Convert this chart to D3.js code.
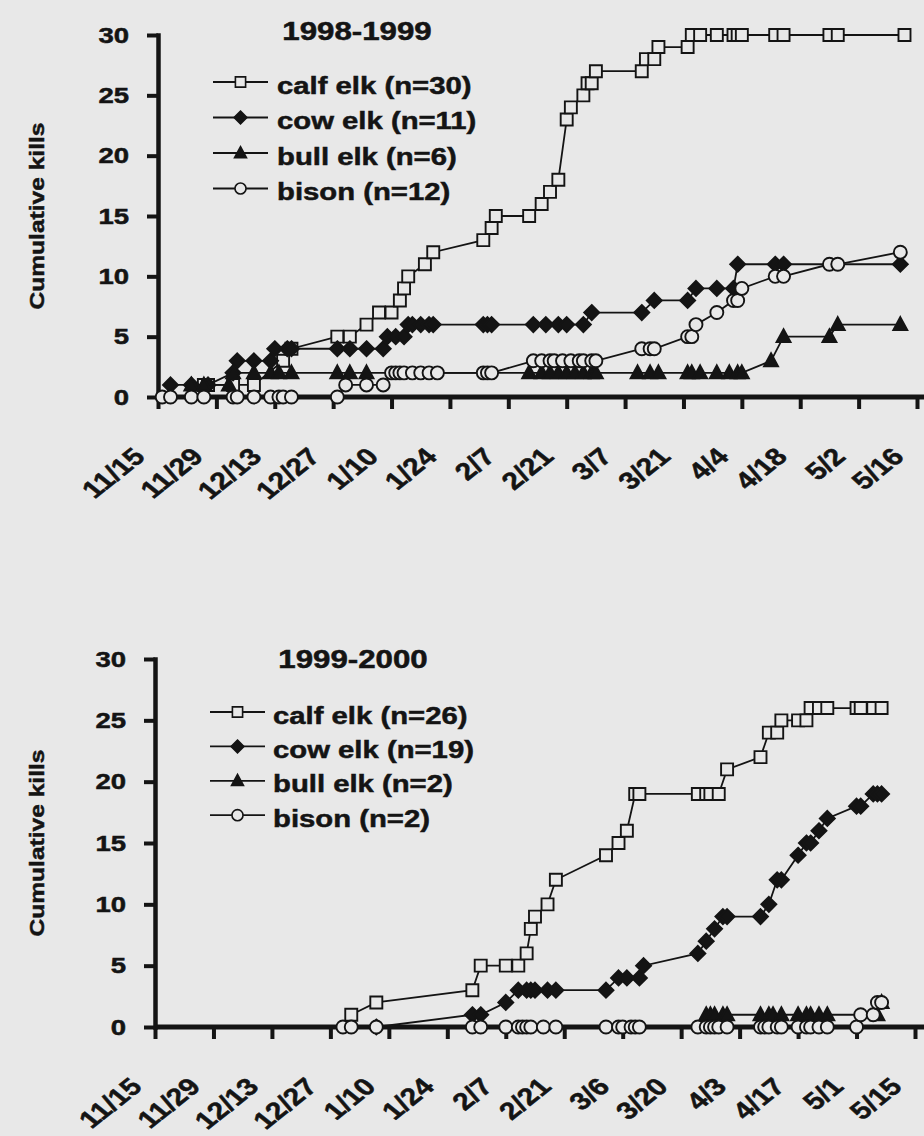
<!DOCTYPE html>
<html>
<head>
<meta charset="utf-8">
<script src="https://cdn.jsdelivr.net/npm/d3@7/dist/d3.min.js"></script>
<style>
  html, body { margin: 0; padding: 0; background: #e8e8e8; }
  svg { display: block; }
  text { font-family: "Liberation Sans", Arial, Helvetica, sans-serif; font-weight: bold; fill: #141414; stroke: #141414; stroke-width: 0.5px; }
</style>
</head>
<body>
<svg id="chart" width="924" height="1136"></svg>
<script>
// Days are counted from 15 November; values are cumulative kills.
const yTicks = [0, 5, 10, 15, 20, 25, 30];
const tickDays = [0, 14, 28, 42, 56, 70, 84, 98, 112, 126, 140, 154, 168, 182];
const tickLabels1998 = ["11/15", "11/29", "12/13", "12/27", "1/10", "1/24", "2/7", "2/21", "3/7", "3/21", "4/4", "4/18", "5/2", "5/16"];
const tickLabels1999 = ["11/15", "11/29", "12/13", "12/27", "1/10", "1/24", "2/7", "2/21", "3/6", "3/20", "4/3", "4/17", "5/1", "5/15"];

// 1998-1999
const calf1998Days  = [11, 12, 18, 23, 30, 32, 43, 46, 50, 53, 56, 58, 59, 60, 64, 66, 78, 80, 81, 89, 92, 94, 96, 98, 99, 102, 103, 104, 105, 116, 117, 119, 120, 127, 128, 130, 134, 138, 139, 140, 148, 150, 161, 163, 179];
const calf1998Kills = [1, 1, 1, 1, 3, 4, 5, 5, 6, 7, 7, 8, 9, 10, 11, 12, 13, 14, 15, 15, 16, 17, 18, 23, 24, 25, 26, 26, 27, 27, 28, 28, 29, 29, 30, 30, 30, 30, 30, 30, 30, 30, 30, 30, 30];
const cow1998Days   = [3, 8, 12, 18, 19, 23, 27, 28, 31, 32, 43, 46, 50, 54, 55, 57, 59, 60, 61, 63, 65, 66, 78, 79, 80, 90, 93, 96, 98, 102, 104, 116, 119, 127, 129, 134, 138, 139, 148, 150, 178];
const cow1998Kills  = [1, 1, 1, 2, 3, 3, 3, 4, 4, 4, 4, 4, 4, 4, 5, 5, 5, 6, 6, 6, 6, 6, 6, 6, 6, 6, 6, 6, 6, 6, 7, 7, 8, 8, 9, 9, 9, 11, 11, 11, 11];
const bull1998Days  = [8, 11, 17, 18, 23, 27, 29, 32, 43, 46, 50, 89, 92, 94, 96, 98, 100, 102, 104, 105, 115, 118, 120, 127, 128, 130, 134, 137, 139, 140, 147, 150, 161, 163, 178];
const bull1998Kills = [1, 1, 1, 2, 2, 2, 2, 2, 2, 2, 2, 2, 2, 2, 2, 2, 2, 2, 2, 2, 2, 2, 2, 2, 2, 2, 2, 2, 2, 2, 3, 5, 5, 6, 6];
const bison1998Days  = [1, 3, 8, 11, 18, 19, 23, 27, 29, 30, 32, 43, 45, 50, 54, 56, 57, 58, 59, 61, 63, 65, 67, 78, 79, 80, 90, 92, 94, 95, 97, 99, 101, 102, 104, 105, 116, 118, 119, 127, 128, 129, 134, 138, 139, 140, 148, 150, 161, 163, 178];
const bison1998Kills = [0, 0, 0, 0, 0, 0, 0, 0, 0, 0, 0, 0, 1, 1, 1, 2, 2, 2, 2, 2, 2, 2, 2, 2, 2, 2, 3, 3, 3, 3, 3, 3, 3, 3, 3, 3, 4, 4, 4, 5, 5, 6, 7, 8, 8, 9, 10, 10, 11, 11, 12];

// 1999-2000
const calf1999Days  = [47, 53, 76, 78, 84, 87, 89, 90, 91, 94, 96, 108, 111, 113, 115, 116, 130, 132, 133, 135, 137, 145, 147, 149, 150, 154, 156, 157, 159, 161, 168, 169, 172, 174];
const calf1999Kills = [1, 2, 3, 5, 5, 5, 6, 8, 9, 10, 12, 14, 15, 16, 19, 19, 19, 19, 19, 19, 21, 22, 24, 24, 25, 25, 25, 26, 26, 26, 26, 26, 26, 26];
const cow1999Days   = [53, 76, 78, 84, 87, 89, 90, 91, 94, 96, 108, 111, 113, 116, 117, 130, 132, 134, 136, 137, 145, 147, 149, 150, 154, 156, 157, 159, 161, 168, 169, 172, 173, 174];
const cow1999Kills  = [0, 1, 1, 2, 3, 3, 3, 3, 3, 3, 3, 4, 4, 4, 5, 6, 7, 8, 9, 9, 9, 10, 12, 12, 14, 15, 15, 16, 17, 18, 18, 19, 19, 19];
const bull1999Days  = [132, 133, 134, 136, 137, 145, 147, 148, 150, 154, 156, 157, 159, 161, 173, 174];
const bull1999Kills = [1, 1, 1, 1, 1, 1, 1, 1, 1, 1, 1, 1, 1, 1, 1, 2];
const bison1999Days  = [45, 47, 53, 76, 78, 84, 87, 88, 89, 90, 93, 96, 108, 111, 112, 114, 115, 116, 130, 132, 133, 134, 135, 137, 145, 146, 147, 149, 150, 154, 156, 157, 159, 161, 168, 169, 172, 173, 174];
const bison1999Kills = [0, 0, 0, 0, 0, 0, 0, 0, 0, 0, 0, 0, 0, 0, 0, 0, 0, 0, 0, 0, 0, 0, 0, 0, 0, 0, 0, 0, 0, 0, 0, 0, 0, 0, 0, 1, 1, 2, 2];

const BG = "#e8e8e8";
const INK = "#141414";
const STRETCH = 1.25;   // wide lettering

// marker shapes, centred on 0,0
const shapes = {
  square:   { d: "M-6,-6h12v12h-12Z", fill: BG },
  diamond:  { d: "M0,-7.5L7.5,0L0,7.5L-7.5,0Z", fill: INK },
  triangle: { d: "M0,-7.5L7,5.5L-7,5.5Z", fill: INK },
  circle:   { d: "M6.5,0A6.5,6.5 0 1,1 -6.5,0A6.5,6.5 0 1,1 6.5,0Z", fill: BG }
};

function zipSeries(days, kills) {
  return days.map((d, i) => ({ day: d, kills: kills[i] }));
}

const panels = [
  {
    title: "1998-1999",
    labels: tickLabels1998,
    series: [
      { name: "calf elk (n=30)", shape: "square",   pts: zipSeries(calf1998Days, calf1998Kills) },
      { name: "cow elk (n=11)",  shape: "diamond",  pts: zipSeries(cow1998Days, cow1998Kills) },
      { name: "bull elk (n=6)",  shape: "triangle", pts: zipSeries(bull1998Days, bull1998Kills) },
      { name: "bison (n=12)",    shape: "circle",   pts: zipSeries(bison1998Days, bison1998Kills) }
    ],
    left: 158, right: 917, top: 35, bottom: 397,
    titleX: 357, titleY: 40,
    legendX0: 213, legendX1: 268, legendTextX: 277, legendY: 82, legendStep: 35.5
  },
  {
    title: "1999-2000",
    labels: tickLabels1999,
    series: [
      { name: "calf elk (n=26)", shape: "square",   pts: zipSeries(calf1999Days, calf1999Kills) },
      { name: "cow elk (n=19)",  shape: "diamond",  pts: zipSeries(cow1999Days, cow1999Kills) },
      { name: "bull elk (n=2)",  shape: "triangle", pts: zipSeries(bull1999Days, bull1999Kills) },
      { name: "bison (n=2)",     shape: "circle",   pts: zipSeries(bison1999Days, bison1999Kills) }
    ],
    left: 155, right: 915, top: 659, bottom: 1027,
    titleX: 353, titleY: 668,
    legendX0: 210, legendX1: 265, legendTextX: 273, legendY: 712, legendStep: 34.4
  }
];

const svg = d3.select("#chart");
const W = +svg.attr("width");

svg.append("rect").attr("width", W).attr("height", +svg.attr("height")).attr("fill", BG);

panels.forEach(p => {
  const g = svg.append("g");
  const x = d3.scaleLinear().domain([tickDays[0], tickDays[tickDays.length - 1]]).range([p.left, p.right]);
  const y = d3.scaleLinear().domain([0, 30]).range([p.bottom, p.top]);

  // y axis
  const gy = g.append("g")
    .attr("transform", `translate(${p.left},0)`)
    .call(d3.axisLeft(y).tickValues(yTicks).tickSize(11).tickSizeOuter(0).tickPadding(18));
  gy.select(".domain").attr("stroke", INK).attr("stroke-width", 4.5).attr("stroke-linecap", "square");
  gy.selectAll(".tick line").attr("stroke", INK).attr("stroke-width", 4);
  gy.selectAll(".tick text")
    .attr("fill", INK)
    .attr("font-size", 22)
    .attr("font-family", null)
    .attr("transform", function () {
      const tx = +d3.select(this).attr("x");
      return `translate(${tx},0) scale(${STRETCH},1)`;
    })
    .attr("x", 0);

  // x axis
  const gx = g.append("g")
    .attr("transform", `translate(0,${p.bottom})`)
    .call(d3.axisBottom(x).tickValues(tickDays).tickFormat((d, i) => p.labels[i]).tickSize(12).tickSizeOuter(0));
  gx.select(".domain").remove();
  gx.append("line")
    .attr("x1", p.left).attr("x2", W)
    .attr("stroke", INK).attr("stroke-width", 5);
  gx.selectAll(".tick line").attr("stroke", INK).attr("stroke-width", 4);
  gx.selectAll(".tick text")
    .attr("fill", INK)
    .attr("font-size", 24)
    .attr("font-family", null)
    .attr("text-anchor", "end")
    .attr("x", 0).attr("y", 0).attr("dy", 0)
    .attr("transform", `translate(-12,61) scale(${STRETCH},1) rotate(-45)`);

  // y axis title
  g.append("text")
    .attr("transform", `translate(44,${(p.top + p.bottom) / 2}) rotate(-90) scale(1.17,1)`)
    .attr("text-anchor", "middle")
    .attr("font-size", 21)
    .text("Cumulative kills");

  // season title
  g.append("text")
    .attr("transform", `translate(${p.titleX},${p.titleY}) scale(${STRETCH},1)`)
    .attr("text-anchor", "middle")
    .attr("font-size", 25)
    .text(p.title);

  // series lines and markers
  const line = d3.line().x(d => x(d.day)).y(d => y(d.kills));
  p.series.forEach(s => {
    g.append("path")
      .datum(s.pts)
      .attr("d", line)
      .attr("fill", "none")
      .attr("stroke", INK)
      .attr("stroke-width", 1.8);
    g.append("g").selectAll("path")
      .data(s.pts)
      .join("path")
      .attr("transform", d => `translate(${x(d.day)},${y(d.kills)})`)
      .attr("d", shapes[s.shape].d)
      .attr("fill", shapes[s.shape].fill)
      .attr("stroke", INK)
      .attr("stroke-width", 1.9);
  });

  // legend
  const lg = g.append("g");
  p.series.forEach((s, i) => {
    const ry = p.legendY + i * p.legendStep;
    lg.append("line")
      .attr("x1", p.legendX0).attr("x2", p.legendX1)
      .attr("y1", ry).attr("y2", ry)
      .attr("stroke", INK).attr("stroke-width", 1.8);
    lg.append("path")
      .attr("transform", `translate(${(p.legendX0 + p.legendX1) / 2},${ry}) scale(0.85)`)
      .attr("d", shapes[s.shape].d)
      .attr("fill", shapes[s.shape].fill)
      .attr("stroke", INK)
      .attr("stroke-width", 1.9);
    lg.append("text")
      .attr("transform", `translate(${p.legendTextX},${ry + 11.5}) scale(1.22,1)`)
      .attr("font-size", 24)
      .text(s.name);
  });
});
</script>
</body>
</html>
